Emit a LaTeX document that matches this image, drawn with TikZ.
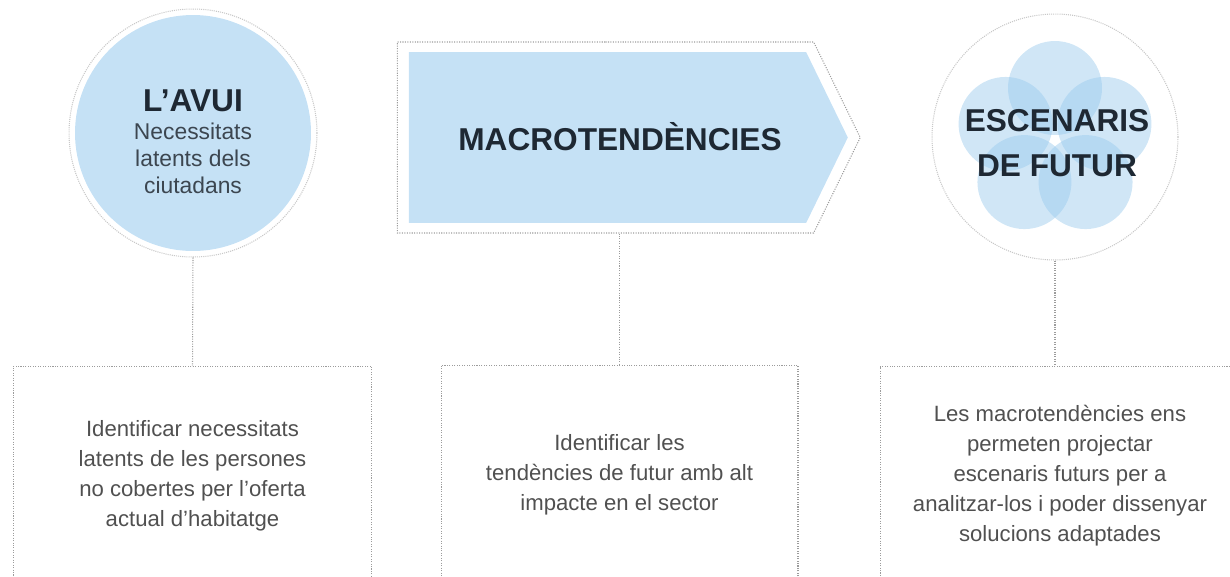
\documentclass[tikz,border=0pt]{standalone}
\usepackage{fontspec}
\setmainfont{Liberation Sans}
\usetikzlibrary{positioning,shapes.symbols}
\definecolor{Ink}{HTML}{1E2833}
\definecolor{SubInk}{HTML}{3C4650}
\definecolor{BodyInk}{HTML}{505050}
\definecolor{RuleGray}{HTML}{9C9C9C}
\definecolor{RingGray}{HTML}{C8C8C8}
\definecolor{SkyFill}{HTML}{C5E1F5}
\definecolor{PetalFill}{HTML}{96C8EC}
\tikzset{
  guide line/.style={draw=RuleGray, line width=0.6pt, dash pattern=on 0.6pt off 0.8pt},
  outer ring/.style={circle, draw=RingGray, line width=0.6pt,
    dash pattern=on 0.6pt off 0.6pt, inner sep=0pt},
  sky disc/.style={circle, fill=SkyFill, inner sep=0pt},
  petal/.style={circle, fill=PetalFill, fill opacity=0.45, inner sep=0pt, minimum size=1.88cm},
  sky signal/.style={signal, signal to=east, signal pointer angle=128, inner sep=0pt},
  heading/.style={font=\bfseries\fontsize{18}{25.5}\selectfont, text=Ink, align=center},
  note box/.style={draw=RuleGray, line width=0.6pt, dash pattern=on 0.6pt off 0.8pt,
    minimum width=7.18cm, minimum height=4.36cm, align=center, text=BodyInk,
    font=\fontsize{12.6}{17}\selectfont},
}

\begin{document}
\begin{tikzpicture}[x=0.02cm, y=-0.02cm]
  \useasboundingbox (0,0) rectangle (1230,576);
  \clip (0,0) rectangle (1230,576);

  % Today: filled disc inside a faint dotted ring.
  \node[sky disc, minimum size=4.72cm] (today) at (193,133) {};
  \node[outer ring, minimum size=4.96cm] (todayRing) at (193,133) {};
  \node[align=center, text=SubInk, font=\fontsize{13}{15.5}\selectfont] (todayText) at (193,142)
    {{\bfseries\color{Ink}\fontsize{18}{20}\selectfont L’AVUI}\\Necessitats\\latents dels\\ciutadans};

  % Trends: filled signal inside a dotted outline.
  \node[sky signal, fill=SkyFill, minimum width=8.78cm, minimum height=3.42cm] (trends) at (607.5,137.5) {};
  \node[sky signal, draw=RuleGray, line width=0.6pt, dash pattern=on 0.6pt off 0.8pt,
    minimum width=9.26cm, minimum height=3.82cm] (trendsFrame) at (605.5,137.5) {};
  \node[heading] (trendsText) at (620,137) {MACROTENDÈNCIES};

  % Future: five overlapping petals in a dotted ring.
  \node[outer ring, minimum size=4.92cm] (futureRing) at (1055,137) {};
  \coordinate (bloom) at (1055,140);
  \foreach \ang in {90,162,234,306,18}
    \node[petal] (petal\ang) at ([shift={(\ang:1.04cm)}]bloom) {};
  \node[heading] (futureText) at (1057,143.5) {ESCENARIS\\DE FUTUR};

  % Description boxes, cut by the lower edge.
  \node[note box, anchor=north] (todayNote) at (192.5,366)
    {Identificar necessitats\\latents de les persones\\no cobertes per l’oferta\\actual d’habitatge};
  \node[note box, anchor=north, minimum width=7.14cm] (trendsNote) at (619.5,365)
    {Identificar les\\tendències de futur amb alt\\impacte en el sector};
  \node[note box, anchor=north, minimum width=7.2cm] (futureNote) at (1060,366)
    {Les macrotendències ens\\permeten projectar\\escenaris futurs per a\\analitzar-los i poder dissenyar\\solucions adaptades};

  % Links from each stage down to its box.
  \draw[guide line] (todayRing.south) -- (todayNote.north);
  \draw[guide line] (trendsNote.north |- trendsFrame.south) -- (trendsNote.north);
  \draw[guide line] (futureRing.south) -- (futureRing.south |- futureNote.north);
\end{tikzpicture}
\end{document}
